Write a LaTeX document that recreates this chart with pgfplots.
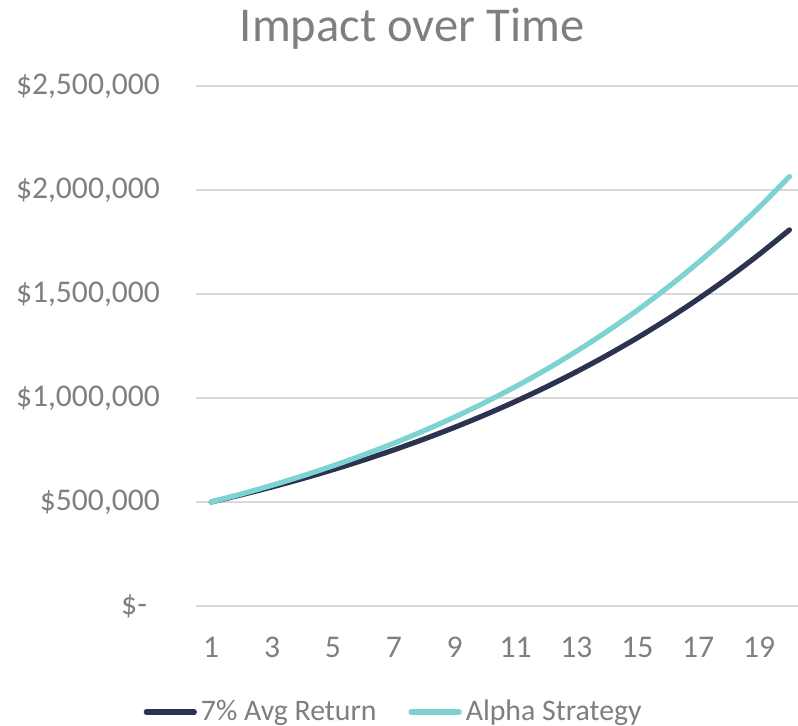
\documentclass[border=0pt]{standalone}
\usepackage{pgfplots}
\pgfplotsset{compat=1.18}
\usepackage{fontspec}
\setmainfont{Carlito}
\definecolor{navy}{HTML}{2C3350}
\definecolor{teal}{HTML}{7DD3D2}
\definecolor{txtgrey}{HTML}{7F7F7F}
\definecolor{gridgrey}{HTML}{D9D9D9}
\begin{document}
\begin{tikzpicture}
\useasboundingbox (-98pt,-60pt) rectangle (301pt,303pt);
\begin{axis}[
  at={(0,0)}, anchor=south west,
  scale only axis, width=301pt, height=260pt,
  xmin=0.5, xmax=20.28, ymin=0, ymax=2500000,
  axis line style={draw=none},
  major tick length=0pt,
  scaled y ticks=false,
  ymajorgrids, grid style={color=gridgrey, line width=0.9pt},
  xtick={1,3,5,7,9,11,13,15,17,19},
  xticklabels={1,3,5,7,9,11,13,15,17,19},
  ytick={0,500000,1000000,1500000,2000000,2500000},
  yticklabels={{\$-\hspace*{6.5pt}},{\$500,000},{\$1,000,000},{\$1,500,000},{\$2,000,000},{\$2,500,000}},
  ticklabel style={font=\fontsize{15.8}{17}\selectfont, text=txtgrey},
  xticklabel style={yshift=-12pt},
  yticklabel style={xshift=-14.5pt},
  /pgf/number format/assume math mode=true,
  clip=false,
  legend style={draw=none, at={(0.33,-0.204)}, anchor=center,
    font=\fontsize{14.9}{17}\selectfont, text=txtgrey,
    legend columns=2,
    /tikz/every even column/.append style={column sep=14pt},
    inner sep=0pt, cells={anchor=west}},
  legend image code/.code={\draw[#1, line cap=round] (0pt,0pt) -- (24pt,0pt);},
]
\addplot[navy, line width=2.6pt, line cap=round, smooth] coordinates {
(1,500000)(2,535000)(3,572450)(4,612522)(5,655398)(6,701276)(7,750365)
(8,802891)(9,859093)(10,919230)(11,983576)(12,1052426)(13,1126096)
(14,1204923)(15,1289267)(16,1379516)(17,1476082)(18,1579408)(19,1689966)(20,1808264)};
\addlegendentry{7\% Avg Return}
\addplot[teal, line width=2.6pt, line cap=round, smooth] coordinates {
(1,500000)(2,538750)(3,580503)(4,625492)(5,673967)(6,726200)(7,782480)
(8,843122)(9,908464)(10,978865)(11,1054727)(12,1136468)(13,1224545)
(14,1319447)(15,1421704)(16,1531886)(17,1650607)(18,1778528)(19,1916364)(20,2064881)};
\addlegendentry{Alpha Strategy}
\node[font=\fontsize{24.3}{28}\selectfont, text=txtgrey] at (rel axis cs:0.359,1.11) {Impact over Time};
\end{axis}
\end{tikzpicture}
\end{document}
